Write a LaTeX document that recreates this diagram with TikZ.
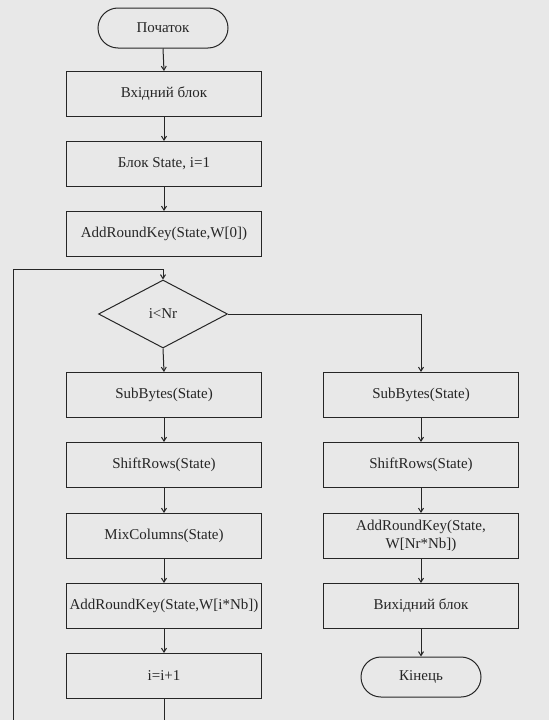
\documentclass[tikz,border=0pt]{standalone}
\usepackage{fontspec}
\setmainfont{Liberation Serif}
\usepackage{xcolor}
\usepackage{tikz}
\usetikzlibrary{arrows.meta,shapes.geometric,shapes.misc}

\tikzset{
  blok/.style={draw=black!85, line width=1pt, minimum width=195pt, minimum height=45pt,
    inner sep=0pt, align=center, text=black!85, font=\fontsize{15}{18}\selectfont},
  term/.style={blok, rounded rectangle, minimum width=130pt, minimum height=40pt},
  umova/.style={blok, diamond, minimum width=129pt, minimum height=68pt},
  strilka/.style={-{Straight Barb[length=4pt,width=5pt]}, line width=1pt, draw=black!85},
}

\begin{document}
\begin{tikzpicture}[x=1pt,y=-1pt]
\fill[black!9] (0,0) rectangle (549,720);
\clip (0,0) rectangle (549,720);
\useasboundingbox (0,0) rectangle (549,720);

% Main column
\node[term] (start) at (163,28) {Початок};
\node[blok] (vhid) at (164,94) {Вхідний блок};
\node[blok] (stan) at (164,164) {Блок State, i=1};
\node[blok] (klyuch0) at (164,234) {AddRoundKey(State,W[0])};
\node[umova] (umova) at (163,314) {i<Nr};
\node[blok] (sub1) at (164,395) {SubBytes(State)};
\node[blok] (shift1) at (164,465) {ShiftRows(State)};
\node[blok] (mix) at (164,536) {MixColumns(State)};
\node[blok] (klyuch1) at (164,606) {AddRoundKey(State,W[i*Nb])};
\node[blok] (inkr) at (164,676) {i=i+1};

% Final round
\node[blok] (sub2) at (421,395) {SubBytes(State)};
\node[blok] (shift2) at (421,465) {ShiftRows(State)};
\node[blok] (klyuch2) at (421,536) {AddRoundKey(State,\\W[Nr*Nb])};
\node[blok] (vyhid) at (421,606) {Вихідний блок};
\node[term, minimum width=120pt] (kinec) at (421,677) {Кінець};

\foreach \a/\b in {start/vhid, vhid/stan, stan/klyuch0, umova/sub1, sub1/shift1,
    shift1/mix, mix/klyuch1, klyuch1/inkr, sub2/shift2, shift2/klyuch2,
    klyuch2/vyhid, vyhid/kinec} {
    \draw[strilka] (\a.south) -- (\b.north);
}
\draw[strilka] (umova.east) -| (sub2.north);

% Loop back to the condition
\coordinate (povorot) at (13,269);
\draw[strilka] (inkr.south) -- ++(0,50) -| (povorot) -- (povorot -| umova.north) -- (umova.north);
\end{tikzpicture}
\end{document}
